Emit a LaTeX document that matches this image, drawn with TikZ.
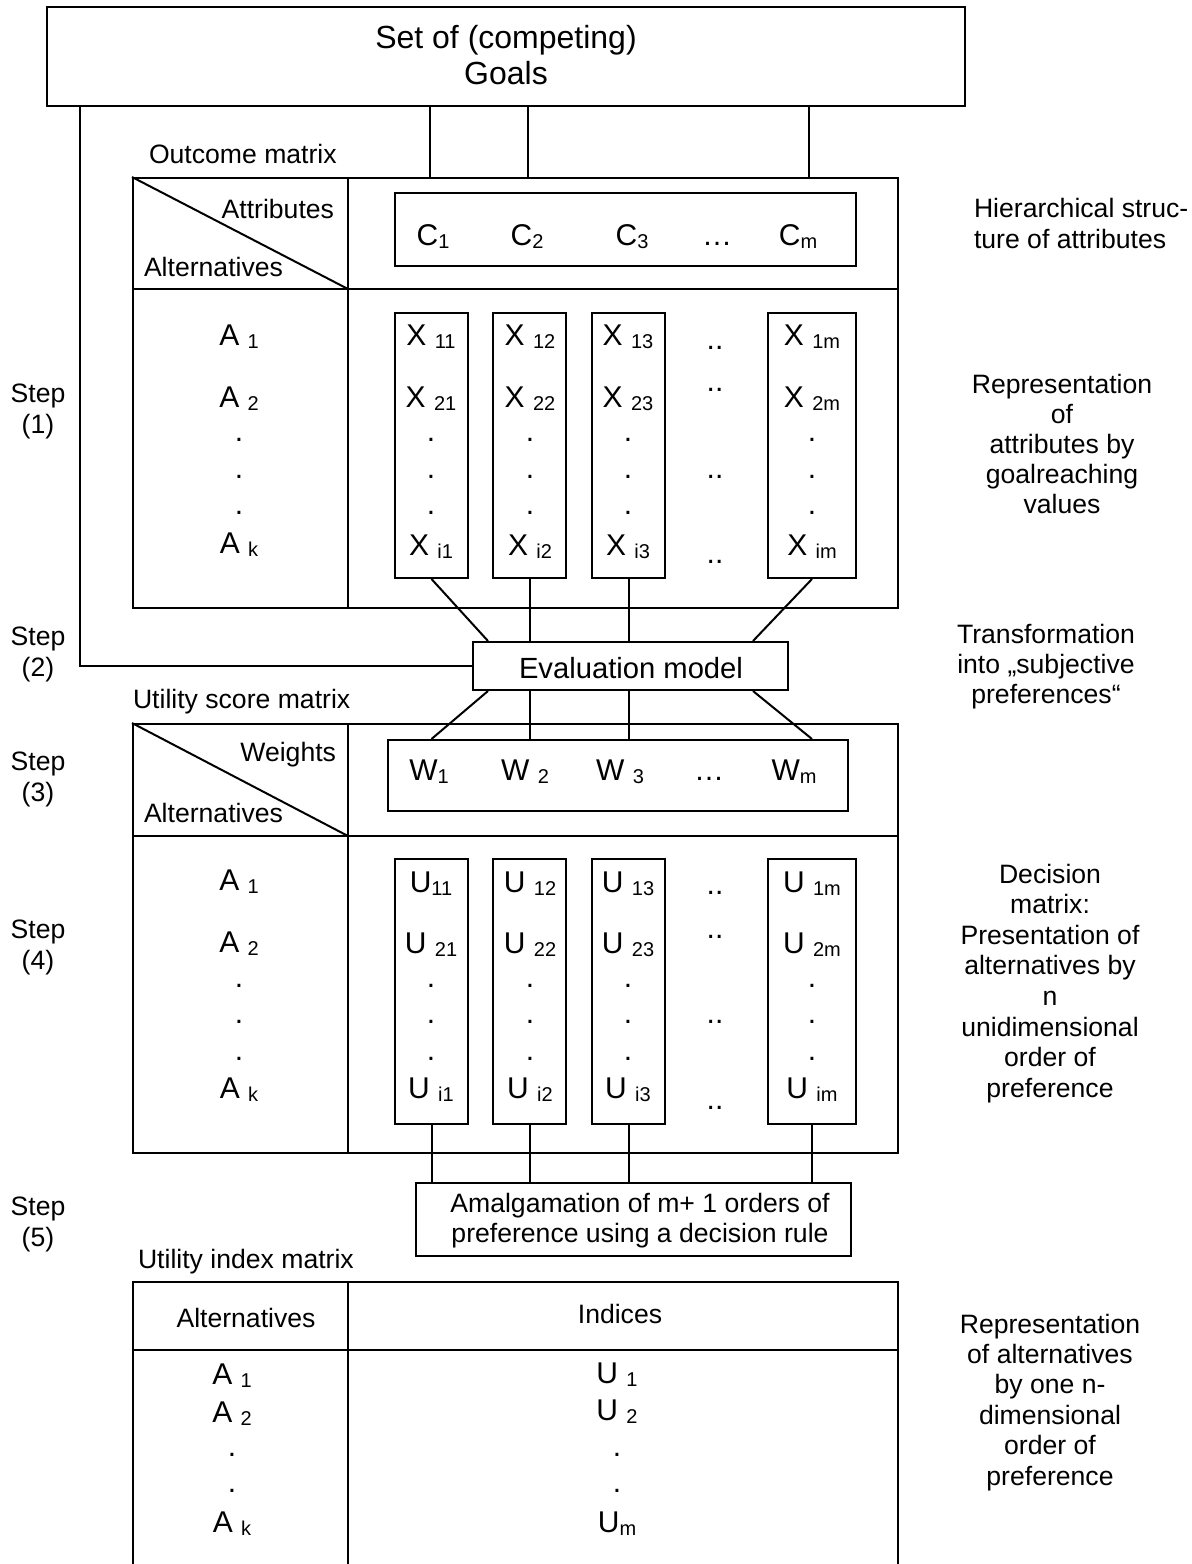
\documentclass[tikz,border=0pt]{standalone}
\usepackage{fontspec}
\setmainfont{Liberation Sans}
\usetikzlibrary{fit}
% font sizes
\newcommand\fbody{\fontsize{13.3}{16}\selectfont}
\newcommand\fent{\fontsize{15}{18}\selectfont}
\newcommand\fgoal{\fontsize{16}{19}\selectfont}
\newcommand\feval{\fontsize{14.6}{17}\selectfont}
% lowered index text
\newcommand\lo[1]{\raisebox{-1.5pt}{\fontsize{10}{10}\selectfont #1}}

\begin{document}
\begin{tikzpicture}[x=0.5pt, y=-0.5pt, line width=1pt,
  frame/.style={draw, inner sep=0pt, line width=1pt},
  txt/.style={anchor=base, inner sep=0pt, font=\fbody},
  txtl/.style={txt, anchor=base west},
  txtr/.style={txt, anchor=base east},
  ent/.style={anchor=base, inner sep=0pt, font=\fent},
  dotn/.style={anchor=center, inner sep=0pt, font=\fent},
]
\useasboundingbox (0,0) rectangle (1192,1564);

% ---------- helper x positions ----------
\coordinate (gx1) at (430,0);
\coordinate (gx2) at (528,0);
\coordinate (gx3) at (809,0);
\coordinate (fb)  at (80,0);
\coordinate (e1)  at (488,0);
\coordinate (e4)  at (753,0);

% ---------- goals ----------
\node[frame, fit={(47,7) (965,106)}] (goals) {};
\node[anchor=base, inner sep=0pt, font=\fgoal] (g1) at (506,48) {Set of (competing)};
\node[anchor=base, inner sep=0pt, font=\fgoal] (g2) at (506,84) {Goals};

% ---------- outcome matrix ----------
\node[txtl] (omlbl) at (148,163) {Outcome matrix};
\node[frame, fit={(133,178) (898,608)}] (om) {};
\draw (348,178) -- (348,608);
\draw (133,289) -- (898,289);
\draw (om.north west) -- (348,289);
\node[txtr] (omattr) at (335,218) {Attributes};
\node[txtl] (omalt) at (143,276) {Alternatives};

\node[frame, fit={(395,193) (856,266)}] (cbox) {};
\node[ent] (c1) at (433,245) {C\lo{1}};
\node[ent] (c2) at (527,245) {C\lo{2}};
\node[ent] (c3) at (632,245) {C\lo{3}};
\node[ent] (cd) at (717,245) {\dots};
\node[ent] (cm) at (798,245) {C\lo{m}};

% columns of values
\foreach \n/\l/\r in {1/395/468, 2/493/566, 3/592/665, 4/768/856} {
  \node[frame, fit={(\l,313) (\r,578)}] (xb\n) {};
  \node[frame, fit={(\l,859) (\r,1124)}] (ub\n) {};
}
\foreach \x/\a/\b/\c in {431/11/21/i1, 530/12/22/i2, 628/13/23/i3, 812/1m/2m/im} {
  \node[ent] (x\a) at (\x,345) {X \lo{\a}};
  \node[ent] (x\b) at (\x,407) {X \lo{\b}};
  \node[ent] (x\c) at (\x,555) {X \lo{\c}};
  \node[ent] (u\b) at (\x,953) {U \lo{\b}};
  \node[ent] (u\c) at (\x,1098) {U \lo{\c}};
}
\node[ent] (u11) at (431,892) {U\lo{11}};
\node[ent] (u12) at (530,892) {U \lo{12}};
\node[ent] (u13) at (628,892) {U \lo{13}};
\node[ent] (u1m) at (812,892) {U \lo{1m}};

\foreach \x [count=\k] in {239,431,530,628,812} {
  \foreach \y [count=\j] in {440,477,513} {
    \node[dotn] (xd\k\j) at (\x,\y) {.};
  }
  \foreach \y [count=\j] in {986,1022,1059} {
    \node[dotn] (ud\k\j) at (\x,\y) {.};
  }
}
\foreach \y [count=\j] in {348,390,477,562} {
  \node[dotn] (xdd\j) at (715,\y) {..};
}
\foreach \y [count=\j] in {893,937,1022,1108} {
  \node[dotn] (udd\j) at (715,\y) {..};
}

% alternatives
\node[ent] (oa1) at (239,345) {A \lo{1}};
\node[ent] (oa2) at (239,407) {A \lo{2}};
\node[ent] (oak) at (239,553) {A \lo{k}};
\node[ent] (ua1) at (239,890) {A \lo{1}};
\node[ent] (ua2) at (239,952) {A \lo{2}};
\node[ent] (uak) at (239,1098) {A \lo{k}};

% goal links
\draw (goals.south -| gx1) -- (om.north -| gx1);
\draw (goals.south -| gx2) -- (om.north -| gx2);
\draw (goals.south -| gx3) -- (om.north -| gx3);

% ---------- evaluation model ----------
\node[frame, fit={(473,642) (788,690)}] (eval) {};
\node[anchor=base, inner sep=0pt, font=\feval] (evaltxt) at (631,678) {Evaluation model};
\draw (goals.south -| fb) |- (eval.west);

\draw (xb1.south) -- (eval.north -| e1);
\draw (xb2.south) -- (eval.north -| xb2.south);
\draw (xb3.south) -- (eval.north -| xb3.south);
\draw (xb4.south) -- (eval.north -| e4);

% ---------- utility score matrix ----------
\node[txtl] (umlbl) at (132,708) {Utility score matrix};
\node[frame, fit={(133,724) (898,1153)}] (um) {};
\draw (348,724) -- (348,1153);
\draw (133,836) -- (898,836);
\draw (um.north west) -- (348,836);
\node[txtr] (umw) at (337,761) {Weights};
\node[txtl] (umalt) at (143,822) {Alternatives};

\node[frame, fit={(388,740) (848,811)}] (wbox) {};
\node[ent] (w1) at (429,780) {W\lo{1}};
\node[ent] (w2) at (525,780) {W \lo{2}};
\node[ent] (w3) at (620,780) {W \lo{3}};
\node[ent] (wd) at (709,780) {\dots};
\node[ent] (wm) at (794,780) {W\lo{m}};

\draw (eval.south -| e1) -- (wbox.north -| xb1.south);
\draw (eval.south -| xb2.south) -- (wbox.north -| xb2.south);
\draw (eval.south -| xb3.south) -- (wbox.north -| xb3.south);
\draw (eval.south -| e4) -- (wbox.north -| xb4.south);

% ---------- amalgamation ----------
\node[frame, fit={(416,1183) (851,1256)}] (amal) {};
\node[txt] (am1) at (640,1212) {Amalgamation of m+ 1 orders of};
\node[txt] (am2) at (640,1242) {preference using a decision rule};
\foreach \n in {1,2,3,4} {
  \draw (ub\n.south) -- (amal.north -| ub\n.south);
}

% ---------- utility index matrix ----------
\node[txtl] (imlbl) at (137,1268) {Utility index matrix};
\draw (133,1564) -- (133,1282) -- (898,1282) -- (898,1564);
\draw (348,1282) -- (348,1564);
\draw (133,1350) -- (898,1350);
\node[txt] (imalt) at (246,1327) {Alternatives};
\node[txt] (imind) at (620,1323) {Indices};
\node[ent] (ia1) at (232,1384) {A \lo{1}};
\node[ent] (ia2) at (232,1422) {A \lo{2}};
\node[ent] (iak) at (232,1532) {A \lo{k}};
\node[ent] (iu1) at (617,1383) {U \lo{1}};
\node[ent] (iu2) at (617,1420) {U \lo{2}};
\node[ent] (ium) at (617,1532) {U\lo{m}};
\foreach \y [count=\j] in {1455,1491} {
  \node[dotn] (iad\j) at (232,\y) {.};
  \node[dotn] (iud\j) at (617,\y) {.};
}

% ---------- step labels ----------
\foreach \n/\y in {1/402, 2/645, 3/770, 4/938, 5/1215} {
  \node[txt] (step\n) at (38,\y) {Step};
  \node[txt] (stepn\n) at (38,\y+31) {(\n)};
}

% ---------- side notes ----------
\node[txtl] (h1) at (973,217) {Hierarchical struc-};
\node[txtl] (h2) at (973,248) {ture of attributes};
\foreach \t [count=\i] in {Representation, of, attributes by, goalreaching, values} {
  \node[txt] (ra\i) at (1062,{393+30*(\i-1)}) {\t};
}
\foreach \t [count=\i] in {Transformation, into „subjective, preferences“} {
  \node[txt] (tr\i) at (1046,{643+30*(\i-1)}) {\t};
}
\foreach \t [count=\i] in {Decision, matrix:, Presentation of, alternatives by, n, unidimensional, order of, preference} {
  \node[txt] (dm\i) at (1050,{883+30.6*(\i-1)}) {\t};
}
\foreach \t [count=\i] in {Representation, of alternatives, by one n-, dimensional, order of, preference} {
  \node[txt] (rb\i) at (1050,{1333+30.4*(\i-1)}) {\t};
}
\end{tikzpicture}
\end{document}
